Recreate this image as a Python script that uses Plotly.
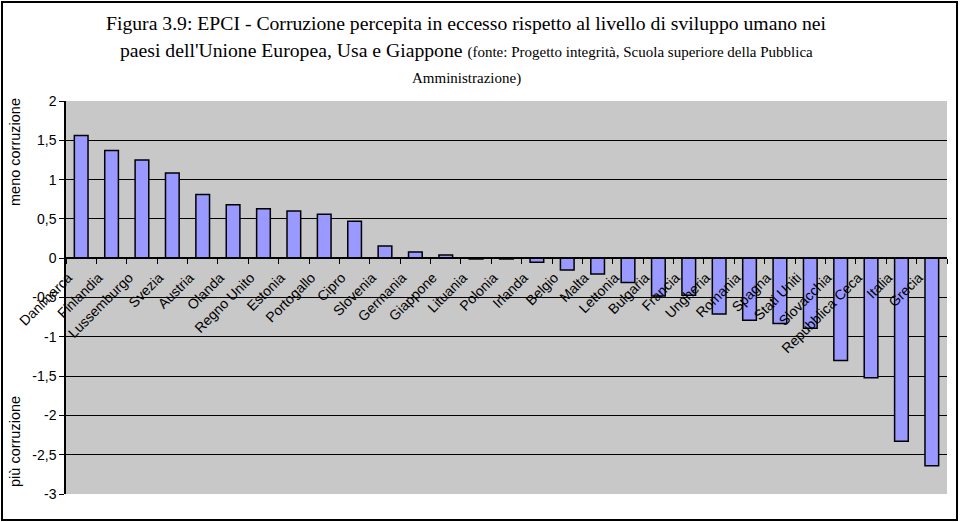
import plotly.graph_objects as go

countries = ["Danimarca", "Finlandia", "Lussemburgo", "Svezia", "Austria", "Olanda",
             "Regno Unito", "Estonia", "Portogallo", "Cipro", "Slovenia", "Germania",
             "Giappone", "Lituania", "Polonia", "Irlanda", "Belgio", "Malta", "Lettonia",
             "Bulgaria", "Francia", "Ungheria", "Romania", "Spagna", "Stati Uniti",
             "Slovacchia", "Repubblica Ceca", "Italia", "Grecia"]
values = [1.56, 1.37, 1.25, 1.085, 0.81, 0.68, 0.63, 0.60, 0.56, 0.47, 0.155, 0.08,
          0.04, -0.01, -0.01, -0.05, -0.15, -0.20, -0.31, -0.48, -0.47, -0.71, -0.79,
          -0.83, -0.89, -1.30, -1.52, -2.33, -2.64]
y_tickvals = [2, 1.5, 1, 0.5, 0, -0.5, -1, -1.5, -2, -2.5, -3]
y_ticktext = ["2", "1,5", "1", "0,5", "0", "-0,5", "-1", "-1,5", "-2", "-2,5", "-3"]

W, H = 960, 522
L, R, T, B = 66, 947, 101, 494

def px(x):
    return (x - L) / (R - L)

def py(y):
    return (B - y) / (B - T)

fig = go.Figure()
fig.add_trace(go.Bar(
    x=countries, y=values,
    marker=dict(color="#9999FF", line=dict(color="black", width=1.5)),
))

sans = "Liberation Sans, Arial, sans-serif"
serif = "Liberation Serif, Times New Roman, serif"

fig.update_layout(
    width=W, height=H,
    margin=dict(l=L, r=W - R, t=T, b=H - B),
    paper_bgcolor="white",
    plot_bgcolor="#C8C8C8",
    showlegend=False,
    bargap=0.55,
    xaxis=dict(
        anchor="free", position=0.6, showline=True, linecolor="black", linewidth=1.5,
        ticks="outside", ticklen=5, tickcolor="black", tickson="boundaries",
        tickangle=-45, showgrid=False, automargin=False,
        ticklabelshift=-13, ticklabelstandoff=5,
        tickfont=dict(family=sans, size=14, color="black"),
    ),
    yaxis=dict(
        range=[-3, 2], tickvals=y_tickvals, ticktext=y_ticktext,
        showgrid=True, gridcolor="black", gridwidth=1,
        showline=True, linecolor="black", linewidth=1.5,
        ticks="outside", ticklen=5, tickcolor="black",
        zeroline=False, automargin=False,
        tickfont=dict(family=sans, size=14, color="black"),
    ),
)

annotations = [
    dict(text="Figura 3.9: EPCI - Corruzione percepita in eccesso rispetto al livello di sviluppo umano nei",
         x=px(466), y=py(23), font=dict(family=serif, size=19.7, color="black")),
    dict(text="paesi dell'Unione Europea, Usa e Giappone <span style='font-size:15px'>(fonte: Progetto integrità, Scuola superiore della Pubblica</span>",
         x=px(466), y=py(50), font=dict(family=serif, size=19.7, color="black")),
    dict(text="Amministrazione)",
         x=px(466), y=py(78), font=dict(family=serif, size=15, color="black")),
    dict(text="meno corruzione", textangle=-90,
         x=px(15), y=py(152), font=dict(family=sans, size=14.5, color="black")),
    dict(text="più corruzione", textangle=-90,
         x=px(15), y=py(442), font=dict(family=sans, size=14.5, color="black")),
]
for a in annotations:
    a.update(xref="paper", yref="paper", showarrow=False, xanchor="center", yanchor="middle")
fig.update_layout(annotations=annotations)

fig.add_shape(type="rect", xref="paper", yref="paper",
              x0=px(2), x1=px(957), y0=py(520), y1=py(2),
              line=dict(color="black", width=2), fillcolor="rgba(0,0,0,0)", layer="above")

fig.write_html("out.html", config={"displayModeBar": False},
               post_script="document.body.style.margin='0';")
